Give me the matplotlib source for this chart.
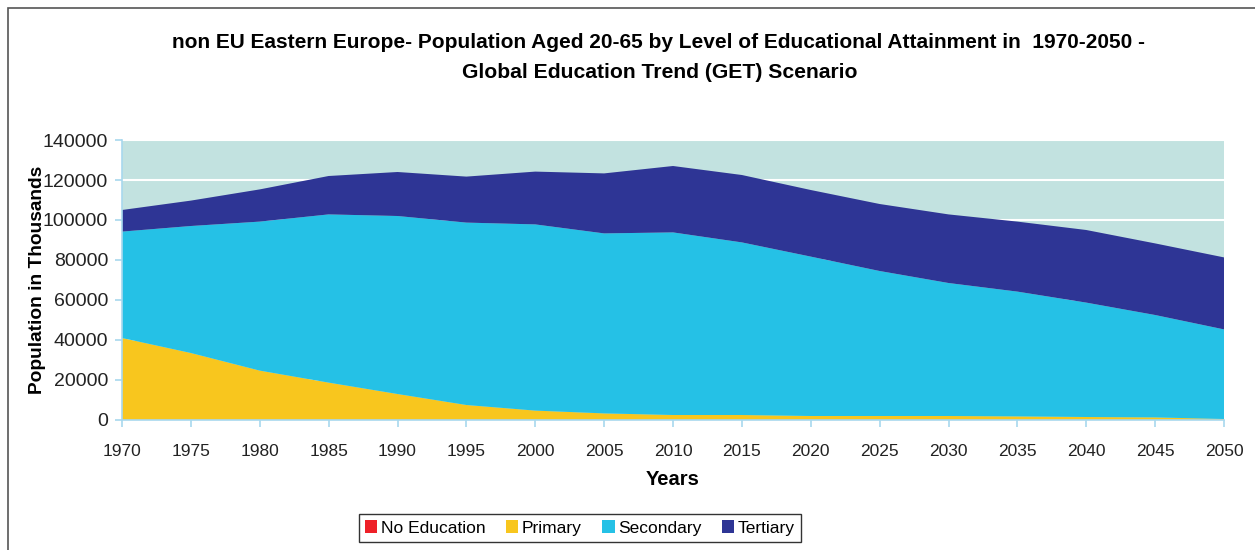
import matplotlib
matplotlib.use("Agg")
import matplotlib.pyplot as plt
from matplotlib.patches import Rectangle, Patch

years = [1970, 1975, 1980, 1985, 1990, 1995, 2000, 2005, 2010, 2015, 2020,
         2025, 2030, 2035, 2040, 2045, 2050]
no_education = [0] * 17
primary = [41000, 33500, 24700, 18700, 13000, 7500, 4700, 3300, 2500, 2500,
           2000, 2000, 2000, 1800, 1500, 1300, 500]
secondary = [53200, 63500, 74500, 84100, 89000, 91200, 93100, 90000, 91300,
             86300, 79700, 72500, 66500, 62400, 57200, 51200, 44800]
tertiary = [10800, 12700, 16100, 19200, 22000, 23000, 26400, 30000, 33200,
            33700, 33300, 33500, 34300, 35000, 36300, 35800, 36000]
labels = ["No Education", "Primary", "Secondary", "Tertiary"]
colors = ["#EE2028", "#F8C61E", "#25C1E6", "#2E3595"]

plt.rcParams['font.family'] = ['Liberation Sans', 'DejaVu Sans']

fig = plt.figure(figsize=(12.55, 5.5), dpi=100)
fig.patches.append(Rectangle((8/1255, -0.1), 1.2, (550-8)/550 + 0.1,
                             transform=fig.transFigure, fill=False,
                             edgecolor="#555555", linewidth=1.2))
ax = fig.add_axes([122/1255, 130/550, (1224-122)/1255, 280/550])
ax.set_facecolor("#C2E2E0")
ax.stackplot(years, no_education, primary, secondary, tertiary,
             colors=colors, linewidth=0, zorder=2)
ax.set_xlim(1970, 2050)
ax.set_ylim(0, 140000)
ax.set_xticks(years)
ax.set_yticks(range(0, 140001, 20000))
ax.yaxis.grid(True, color="white", linewidth=1.5, zorder=1)
ax.set_axisbelow(True)
for s in ["top", "right"]:
    ax.spines[s].set_visible(False)
for s in ["left", "bottom"]:
    ax.spines[s].set_color("#A8D8EE")
    ax.spines[s].set_linewidth(1.2)
    ax.spines[s].set_zorder(3)
ax.tick_params(axis="both", colors="#A8D8EE", labelcolor="#222222",
               length=5, width=1.2, direction="out")
ax.tick_params(axis="x", pad=12, labelsize=12.5)
ax.tick_params(axis="y", pad=5, labelsize=14)
ax.set_ylabel("Population in Thousands", fontsize=13.8, fontweight="bold",
              labelpad=-2)
ax.set_xlabel("Years", fontsize=14.5, fontweight="bold", labelpad=8)

fig.text(0.525, 1 - 42/550,
         "non EU Eastern Europe- Population Aged 20-65 by Level of Educational Attainment in  1970-2050 -",
         ha="center", va="center", fontsize=15, fontweight="bold")
fig.text(0.526, 1 - 72/550, "Global Education Trend (GET) Scenario",
         ha="center", va="center", fontsize=15.2, fontweight="bold")

handles = [Patch(facecolor=c, edgecolor="none") for c in colors]
leg = fig.legend(handles, labels, loc="center", bbox_to_anchor=(580/1255, 1 - 528/550),
                 ncol=4, frameon=True, fancybox=False, edgecolor="black",
                 fontsize=12.5, handlelength=0.7, handleheight=0.7,
                 handletextpad=0.2, columnspacing=1.2, borderpad=0.35)
leg.get_frame().set_linewidth(1.0)

fig.savefig("out.png", dpi=100)
